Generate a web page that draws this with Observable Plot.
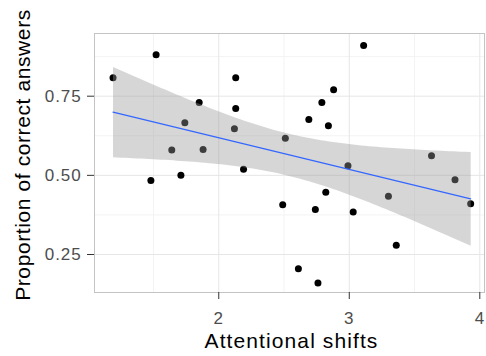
<!DOCTYPE html>
<html><head><meta charset="utf-8">
<script src="https://cdn.jsdelivr.net/npm/d3@7"></script>
<script src="https://cdn.jsdelivr.net/npm/@observablehq/plot@0.6"></script>
<style>
body{margin:0;background:#fff}
svg{display:block}
g[aria-label="y-axis tick label"] text, g[aria-label="x-axis tick label"] text{letter-spacing:0.9px}
.ttlx text{letter-spacing:1.1px}
.ttly text{letter-spacing:0.6px}
</style>
</head><body><div id="chart"></div>
<script>
const shifts = [1.19,1.52,1.48,1.64,1.71,1.74,1.85,1.88,2.12,2.13,2.13,2.19,2.49,2.51,2.61,2.69,2.74,2.76,2.79,2.82,2.84,2.88,2.99,3.03,3.11,3.30,3.36,3.63,3.81,3.93];
const correct = [0.808,0.881,0.484,0.58,0.50,0.666,0.73,0.582,0.647,0.808,0.711,0.519,0.407,0.617,0.205,0.676,0.392,0.16,0.73,0.447,0.657,0.77,0.53,0.384,0.91,0.434,0.279,0.562,0.486,0.41];
const xTicks = [2,3,4];
const yTicks = [0.25,0.5,0.75];
const xMinor = [1.5,2.5,3.5];
const yMinor = [0.375,0.625,0.875];
const xTitle = "Attentional shifts";
const yTitle = "Proportion of correct answers";
const data = shifts.map((x,i)=>({x, y: correct[i]}));
const chart = Plot.plot({
  width:486, height:356, marginLeft:94, marginRight:2, marginTop:33, marginBottom:64,
  style:{fontFamily:"'Liberation Sans', Arial, sans-serif", background:"#fff"},
  x:{domain:[1.048,4.036]}, y:{domain:[0.13,0.948]},
  marks:[
    Plot.ruleX(xMinor,{stroke:"#f3f3f3"}),
    Plot.ruleY(yMinor,{stroke:"#f3f3f3"}),
    Plot.ruleX(xTicks,{stroke:"#e6e6e6"}),
    Plot.ruleY(yTicks,{stroke:"#e6e6e6"}),
    Plot.dot(data,{x:"x",y:"y",r:3.5,fill:"black"}),
    Plot.linearRegressionY(data,{x:"x",y:"y",stroke:"#3366FF",strokeWidth:1.2,fill:"#999",fillOpacity:0.4,ci:0.95}),
    Plot.frame({stroke:"#c4c4c4"}),
    Plot.axisX(xTicks,{tickSize:7,tickPadding:12,fontSize:17,color:"#4d4d4d",stroke:"#333",label:null,tickFormat:d3.format("d")}),
    Plot.axisY(yTicks,{tickSize:7,tickPadding:6,fontSize:17,color:"#4d4d4d",stroke:"#333",label:null,tickFormat:d3.format(".2f")}),
    Plot.text([xTitle],{frameAnchor:"bottom",dx:2,dy:55,fontSize:21,fill:"black",className:"ttlx"}),
    Plot.text([yTitle],{frameAnchor:"left",textAnchor:"middle",rotate:-90,dx:-71,dy:-8,fontSize:21,fill:"black",className:"ttly"})
  ]
});
document.getElementById("chart").append(chart);
</script>
</body></html>
